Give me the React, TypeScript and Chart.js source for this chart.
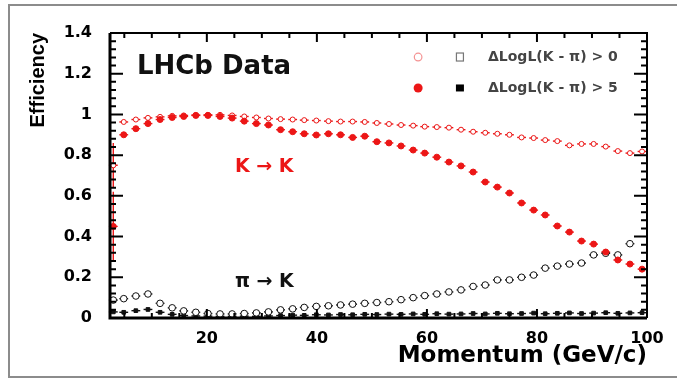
import React, { useEffect, useRef } from "react";
import { Chart, registerables } from "chart.js";

Chart.register(...registerables);

// ---------- data ----------
const momentum = [
  3.0, 4.9, 7.1, 9.3, 11.5, 13.7, 15.8, 18.0, 20.2, 22.4,
  24.6, 26.8, 29.0, 31.2, 33.4, 35.6, 37.7, 39.9, 42.1, 44.3,
  46.5, 48.7, 50.9, 53.1, 55.3, 57.5, 59.6, 61.8, 64.0, 66.2,
  68.4, 70.6, 72.8, 75.0, 77.2, 79.4, 81.5, 83.7, 85.9, 88.1,
  90.3, 92.5, 94.7, 96.9, 99.1,
];

// K -> K, DeltaLogL(K-pi) > 0 (open red circles)
const kToKLoose = [
  0.75, 0.963, 0.975, 0.983, 0.988, 0.993, 0.995, 0.997, 0.998, 0.998,
  0.995, 0.99, 0.985, 0.98, 0.977, 0.975, 0.972, 0.97, 0.967, 0.965,
  0.965, 0.963, 0.958, 0.953, 0.948, 0.945, 0.94, 0.938, 0.935, 0.925,
  0.915, 0.91, 0.905, 0.9, 0.887, 0.884, 0.874, 0.869, 0.848, 0.855,
  0.855, 0.842, 0.82, 0.81, 0.818,
];

// K -> K, DeltaLogL(K-pi) > 5 (filled red circles)
const kToKTight = [
  0.45, 0.9, 0.93, 0.955, 0.975, 0.985, 0.99, 0.995, 0.995, 0.99,
  0.982, 0.967, 0.955, 0.948, 0.925, 0.915, 0.905, 0.899, 0.905, 0.9,
  0.887, 0.893, 0.866, 0.86, 0.845, 0.825, 0.81, 0.79, 0.766, 0.747,
  0.717, 0.668, 0.643, 0.614, 0.565, 0.53, 0.506, 0.452, 0.422, 0.378,
  0.363, 0.324, 0.285, 0.265, 0.24,
];

// pi -> K, DeltaLogL(K-pi) > 0 (open black circles)
const piToKLoose = [
  0.088, 0.095, 0.108, 0.118, 0.072, 0.05, 0.035, 0.028, 0.022, 0.02,
  0.02, 0.022, 0.025, 0.03, 0.04, 0.045, 0.052, 0.057, 0.06, 0.064,
  0.068, 0.072, 0.076, 0.08, 0.09, 0.1, 0.11, 0.118, 0.128, 0.138,
  0.155, 0.162, 0.187, 0.187, 0.2, 0.211, 0.245, 0.255, 0.265, 0.27,
  0.31, 0.318, 0.31, 0.365, null,
];

// pi -> K, DeltaLogL(K-pi) > 5 (filled black squares)
const piToKTight = [
  0.03, 0.028, 0.036, 0.042, 0.028, 0.018, 0.012, 0.01, 0.009, 0.008,
  0.008, 0.009, 0.008, 0.01, 0.012, 0.014, 0.013, 0.016, 0.015, 0.017,
  0.016, 0.018, 0.017, 0.019, 0.018, 0.02, 0.018, 0.021, 0.019, 0.02,
  0.022, 0.02, 0.023, 0.021, 0.022, 0.024, 0.021, 0.023, 0.025, 0.022,
  0.024, 0.026, 0.023, 0.025, 0.026,
];

const kToKLooseErr = [0.11];
const kToKTightErr = [0.17];
const binHalfWidth = 0.8;

const yTicks = [0, 0.2, 0.4, 0.6, 0.8, 1, 1.2, 1.4];
const xTicks = [20, 40, 60, 80, 100];
const legendLabels = ["\u0394LogL(K - \u03c0) > 0", "\u0394LogL(K - \u03c0) > 5"];
const titleText = "LHCb Data";
const kLabel = "K \u2192 K";
const piLabel = "\u03c0 \u2192 K";

// ---------- style ----------
const RED = "rgb(236, 22, 22)";
const BLACK = "#111";
const FONT = "'DejaVu Sans', sans-serif";

const textSpots = [
  { text: titleText, x: 7.3, y: 1.2, color: BLACK, size: 26 },
  { text: kLabel, x: 25.1, y: 0.717, color: RED, size: 19 },
  { text: piLabel, x: 25.1, y: 0.152, color: BLACK, size: 19 },
];
const legendPos = { redX: 58.4, blackX: 66.0, textX: 71.1, rows: [1.282, 1.13] };

const rootPlugin = {
  id: "rootStyle",
  beforeDraw(chart: any) {
    const { ctx, width, height } = chart;
    ctx.save();
    ctx.fillStyle = "#fff";
    ctx.fillRect(0, 0, width, height);
    ctx.strokeStyle = "#8c8c8c";
    ctx.lineWidth = 2;
    ctx.beginPath();
    ctx.moveTo(width, 5);
    ctx.lineTo(9, 5);
    ctx.lineTo(9, 377);
    ctx.lineTo(width, 377);
    ctx.stroke();
    ctx.restore();
  },
  beforeDatasetsDraw(chart: any) {
    const { ctx } = chart;
    const xs = chart.scales.x;
    const ys = chart.scales.y;
    ctx.save();
    chart.data.datasets.forEach((ds: any) => {
      ctx.strokeStyle = ds.errColor;
      ctx.lineWidth = 1.4;
      ds.data.forEach((p: any, i: number) => {
        const py = ys.getPixelForValue(p.y);
        ctx.beginPath();
        ctx.moveTo(xs.getPixelForValue(p.x - binHalfWidth), py);
        ctx.lineTo(xs.getPixelForValue(p.x + binHalfWidth), py);
        const e = ds.yErr ? ds.yErr[i] : 0;
        if (e) {
          const px = xs.getPixelForValue(p.x);
          ctx.moveTo(px, ys.getPixelForValue(p.y - e));
          ctx.lineTo(px, ys.getPixelForValue(p.y + e));
        }
        ctx.stroke();
      });
    });
    ctx.restore();
  },
  afterDatasetsDraw(chart: any) {
    const { ctx } = chart;
    const { left, right, top, bottom } = chart.chartArea;
    const xs = chart.scales.x;
    const ys = chart.scales.y;
    ctx.save();
    // frame
    ctx.strokeStyle = "#000";
    ctx.lineWidth = 2;
    ctx.beginPath();
    ctx.moveTo(left, top);
    ctx.lineTo(right, top);
    ctx.lineTo(right, bottom);
    ctx.stroke();
    ctx.lineWidth = 3;
    ctx.beginPath();
    ctx.moveTo(left, top);
    ctx.lineTo(left, bottom);
    ctx.lineTo(right, bottom);
    ctx.stroke();
    // inward ticks
    ctx.lineWidth = 2;
    ctx.beginPath();
    for (let k = 0; k <= 35; k++) {
      const v = k * 0.04;
      const major = k % 5 === 0;
      const len = major ? 13 : 6;
      const py = ys.getPixelForValue(v);
      ctx.moveTo(left, py);
      ctx.lineTo(left + len, py);
      ctx.moveTo(right, py);
      ctx.lineTo(right - len, py);
    }
    for (let k = 1; k <= 20; k++) {
      const v = k * 5;
      const major = k % 4 === 0;
      const len = major ? 9 : 5;
      const px = xs.getPixelForValue(v);
      ctx.moveTo(px, bottom);
      ctx.lineTo(px, bottom - len);
      ctx.moveTo(px, top);
      ctx.lineTo(px, top + len);
    }
    ctx.stroke();

    // annotations
    ctx.textBaseline = "alphabetic";
    ctx.textAlign = "left";
    textSpots.forEach((t) => {
      ctx.font = `bold ${t.size}px ${FONT}`;
      ctx.fillStyle = t.color;
      ctx.fillText(t.text, xs.getPixelForValue(t.x), ys.getPixelForValue(t.y));
    });

    // legend
    const rx = xs.getPixelForValue(legendPos.redX);
    const bx = xs.getPixelForValue(legendPos.blackX);
    const tx = xs.getPixelForValue(legendPos.textX);
    const r0 = ys.getPixelForValue(legendPos.rows[0]);
    const r1 = ys.getPixelForValue(legendPos.rows[1]);
    ctx.lineWidth = 1.2;
    ctx.strokeStyle = "rgba(240,110,110,0.75)";
    ctx.beginPath();
    ctx.arc(rx, r0, 3.8, 0, Math.PI * 2);
    ctx.stroke();
    ctx.strokeStyle = "#777";
    ctx.strokeRect(bx - 3.5, r0 - 4, 7, 8);
    ctx.fillStyle = RED;
    ctx.beginPath();
    ctx.arc(rx, r1, 4.5, 0, Math.PI * 2);
    ctx.fill();
    ctx.fillStyle = "#000";
    ctx.fillRect(bx - 4, r1 - 3.5, 8, 7);
    ctx.font = `bold 14px ${FONT}`;
    ctx.fillStyle = "#444";
    ctx.textBaseline = "middle";
    ctx.fillText(legendLabels[0], tx, r0);
    ctx.fillText(legendLabels[1], tx, r1);
    ctx.restore();
  },
};

function toPoints(vals: (number | null)[]) {
  return momentum
    .map((x, i) => ({ x, y: vals[i] }))
    .filter((p) => p.y !== null && p.y !== undefined);
}

export default function App() {
  const ref = useRef<HTMLCanvasElement>(null);

  useEffect(() => {
    const canvas = ref.current;
    if (!canvas) return;
    const chart = new Chart(canvas, {
      type: "scatter",
      data: {
        datasets: [
          {
            label: "K\u2192K " + legendLabels[1],
            data: toPoints(kToKTight),
            yErr: kToKTightErr,
            errColor: RED,
            pointStyle: "circle",
            pointRadius: 3,
            backgroundColor: RED,
            borderColor: RED,
            borderWidth: 1,
          },
          {
            label: "K\u2192K " + legendLabels[0],
            data: toPoints(kToKLoose),
            yErr: kToKLooseErr,
            errColor: RED,
            pointStyle: "circle",
            pointRadius: 2.5,
            backgroundColor: "#fff",
            borderColor: RED,
            borderWidth: 1,
          },
          {
            label: "\u03c0\u2192K " + legendLabels[0],
            data: toPoints(piToKLoose),
            errColor: BLACK,
            pointStyle: "circle",
            pointRadius: 3.3,
            backgroundColor: "#fff",
            borderColor: BLACK,
            borderWidth: 1,
          },
          {
            label: "\u03c0\u2192K " + legendLabels[1],
            data: toPoints(piToKTight),
            errColor: BLACK,
            pointStyle: "rect",
            pointRadius: 2.6,
            backgroundColor: BLACK,
            borderColor: BLACK,
            borderWidth: 1,
          },
        ] as any,
      },
      options: {
        responsive: false,
        animation: false,
        events: [],
        layout: { padding: { top: 33, right: 30, left: 0, bottom: 0 } },
        plugins: {
          legend: { display: false },
          tooltip: { enabled: false },
        },
        scales: {
          x: {
            type: "linear",
            min: 2.4,
            max: 100,
            grid: { display: false },
            border: { display: false },
            afterBuildTicks: (s: any) => {
              s.ticks = xTicks.map((v) => ({ value: v }));
            },
            afterFit: (s: any) => {
              s.height = 61;
              s.paddingLeft = 0;
              s.paddingRight = 0;
            },
            ticks: {
              padding: 3,
              color: "#000",
              font: { family: FONT, size: 16, weight: "bold" },
              callback: (v: any) => String(v),
              maxRotation: 0,
              autoSkip: false,
            },
            title: {
              display: true,
              text: "Momentum (GeV/c)",
              align: "end",
              color: "#000",
              font: { family: FONT, size: 23, weight: "bold" },
              padding: { top: 0, bottom: 9 },
            },
          },
          y: {
            type: "linear",
            min: 0,
            max: 1.4,
            grid: { display: false },
            border: { display: false },
            afterBuildTicks: (s: any) => {
              s.ticks = yTicks.map((v) => ({ value: v }));
            },
            afterFit: (s: any) => {
              s.width = 110;
              s.paddingTop = 0;
              s.paddingBottom = 0;
            },
            ticks: {
              padding: 10,
              color: "#000",
              font: { family: FONT, size: 16, weight: "bold" },
              callback: (v: any) => String(v),
              autoSkip: false,
            },
            title: {
              display: true,
              text: "Efficiency",
              align: "end",
              color: "#000",
              font: { family: "'Liberation Sans', Arial, sans-serif", size: 20, weight: "bold" },
              padding: { top: 26, bottom: 0 },
            },
          },
        },
      } as any,
      plugins: [rootPlugin as any],
    });
    return () => chart.destroy();
  }, []);

  return (
    <div style={{ position: "fixed", left: 0, top: 0, width: 677, height: 379, background: "#fff" }}>
      <canvas ref={ref} width={677} height={379} style={{ display: "block" }} />
    </div>
  );
}
